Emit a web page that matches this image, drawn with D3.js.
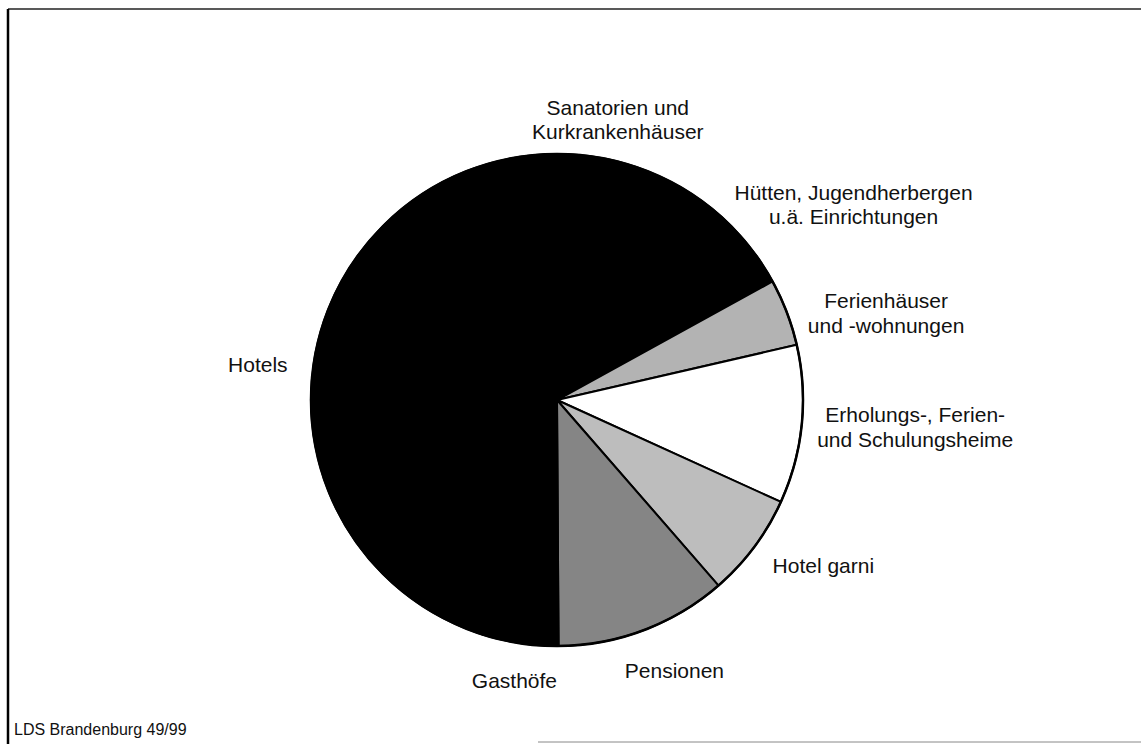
<!DOCTYPE html>
<html>
<head>
<meta charset="utf-8">
<script src="https://cdn.jsdelivr.net/npm/d3@7"></script>
<style>
  body { margin: 0; background: #fff; }
  svg text { font-family: "Liberation Sans", Arial, sans-serif; fill: #111; }
</style>
</head>
<body>
<svg id="chart" width="1141" height="744"></svg>
<script>
// slices clockwise from 12 o'clock (percent share)
const categories = ["Sanatorien und Kurkrankenhäuser", "Hütten, Jugendherbergen u.ä. Einrichtungen",
    "Ferienhäuser und -wohnungen", "Erholungs-, Ferien- und Schulungsheime",
    "Hotel garni", "Pensionen", "Gasthöfe", "Hotels"];
const values = [8.3, 8.7, 4.4, 10.4, 6.8, 11.3, 5.0, 45.1];
const labelLines = [
    ["Sanatorien und", "Kurkrankenhäuser"],
    ["Hütten, Jugendherbergen", "u.ä. Einrichtungen"],
    ["Ferienhäuser", "und -wohnungen"],
    ["Erholungs-, Ferien-", "und Schulungsheime"],
    ["Hotel garni"],
    ["Pensionen"],
    ["Gasthöfe"],
    ["Hotels"]
];
// the dark hatches came out solid black in the scan
const fills = ["#000000", "#000000", "#b3b3b3", "#ffffff", "#bdbdbd", "#858585", "#000000", "#000000"];
const footer = "LDS Brandenburg 49/99";

// small hand nudges so labels sit where the original put them
let labelNudge = [[-32, 7], [16, 13], [0, 19], [-12, -3], [6, -5], [3, 3], [5, -2], [1, 8]];

let width = 1141, height = 744;
let cx = 557, cy = 400, radius = 246;
let fontSize = 21, lineH = 24.5, gap = 28;

let svg = d3.select("#chart");

// frame of the scanned page
svg.append("line").attr("x1", 8).attr("y1", 9).attr("x2", width).attr("y2", 9)
    .attr("stroke", "#222").attr("stroke-width", 1.5);
svg.append("line").attr("x1", 8).attr("y1", 9).attr("x2", 8).attr("y2", height)
    .attr("stroke", "#000").attr("stroke-width", 2.5);
svg.append("line").attr("x1", 538).attr("y1", 742).attr("x2", width).attr("y2", 742)
    .attr("stroke", "#888").attr("stroke-width", 1);

let g = svg.append("g").attr("transform", "translate(" + cx + "," + cy + ")");

let pie = d3.pie().sort(null).value(function (d) { return d; });
let arcs = pie(values);
let arc = d3.arc().innerRadius(0).outerRadius(radius);

g.selectAll("path.slice")
    .data(arcs)
    .enter().append("path")
    .attr("class", "slice")
    .attr("d", arc)
    .attr("fill", function (d, i) { return fills[i]; })
    .attr("stroke", "#000")
    .attr("stroke-width", 2)
    .attr("stroke-linejoin", "round");

g.append("circle").attr("r", radius).attr("fill", "none")
    .attr("stroke", "#000").attr("stroke-width", 2.5);

// labels: box placed outside the slice, Excel-like
let labels = g.selectAll("text.lbl")
    .data(arcs)
    .enter().append("text")
    .attr("class", "lbl")
    .attr("text-anchor", "middle")
    .style("font-size", fontSize + "px");

labels.each(function (d, i) {
    let t = d3.select(this);
    labelLines[i].forEach(function (s, k) {
        t.append("tspan").attr("x", 0).attr("dy", k === 0 ? 0 : lineH).text(s);
    });
});

labels.attr("transform", function (d, i) {
    let bb = this.getBBox();
    let mid = (d.startAngle + d.endAngle) / 2;
    let sx = Math.sin(mid), sy = -Math.cos(mid);
    let px = sx * (radius + gap) + sx * bb.width / 2;
    let py = sy * (radius + gap) + sy * bb.height / 2;
    // shift so box centre sits on (px, py)
    let ox = px - (bb.x + bb.width / 2) + labelNudge[i][0];
    let oy = py - (bb.y + bb.height / 2) + labelNudge[i][1];
    return "translate(" + ox + "," + oy + ")";
});

svg.append("text")
    .attr("x", 14).attr("y", 735)
    .style("font-size", "16px")
    .text(footer);
</script>
</body>
</html>
